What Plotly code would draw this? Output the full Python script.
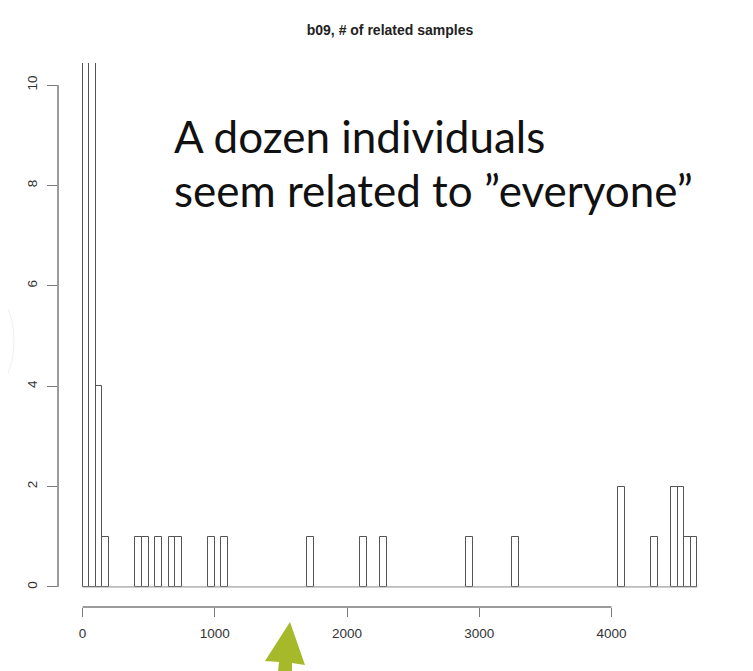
import plotly.graph_objects as go

# histogram of "# of related samples", bins of 50
bin_width = 50
bin_starts = [0, 50, 100, 150, 400, 450, 550, 650, 700, 950, 1050, 1700,
              2100, 2250, 2900, 3250, 4050, 4300, 4450, 4500, 4550, 4600]
# first two bins run far off the top of the plot
counts = [180, 95, 4, 1, 1, 1, 1, 1, 1, 1, 1, 1,
          1, 1, 1, 1, 2, 1, 2, 2, 1, 1]

x_ticks = [0, 1000, 2000, 3000, 4000]
y_ticks = [0, 2, 4, 6, 8, 10]

title = "b09, # of related samples"
note_lines = ["A dozen individuals", "seem related to ”everyone”"]

# the page body has an 8px margin, so the figure is a bit smaller than the window
OFF = 8
W, H = 753 - OFF, 671 - OFF
L, R, T, B = 58 - OFF, 31, 63 - OFF, 64
pw, ph = W - L - R, H - T - B


def px(xs, ys):
    # screen pixel -> paper coords
    xf, yf = xs - OFF, ys - OFF
    return (xf - L) / pw, (H - B - yf) / ph


centers = [s + bin_width / 2 for s in bin_starts]
line_col = "#555555"
axis_col = "#7a7a7a"

fig = go.Figure()

# baseline of zero-count bins
fig.add_trace(go.Scatter(
    x=[bin_starts[0], bin_starts[-1] + bin_width], y=[0, 0],
    mode="lines", line=dict(color="#8a8a8a", width=1),
    hoverinfo="skip", showlegend=False,
))

fig.add_trace(go.Bar(
    x=centers, y=counts, width=bin_width,
    marker=dict(color="rgba(255,255,255,0)", line=dict(color=line_col, width=1)),
    showlegend=False,
))

fig.update_layout(
    width=W, height=H,
    margin=dict(l=L, r=R, t=T, b=B),
    paper_bgcolor="white", plot_bgcolor="white",
    bargap=0,
    title=dict(text="<b>" + title + "</b>", x=0.5, xref="paper",
               y=1 - (30 - OFF) / H, yanchor="middle",
               font=dict(family="Liberation Sans, Arial", size=14, color="#222")),
    font=dict(family="Liberation Sans, Arial", size=13.5, color="#333"),
)

fig.update_xaxes(
    range=[-186, 4836], showgrid=False, zeroline=False, showline=False,
    tickvals=x_ticks, ticks="outside", ticklen=9, tickcolor=axis_col, tickwidth=1,
    ticklabelstandoff=5,
)
fig.update_yaxes(
    range=[-0.4, 10.44], showgrid=False, zeroline=False, showline=False,
    tickvals=y_ticks, ticks="outside", ticklen=10, tickcolor=axis_col, tickwidth=1,
    tickangle=-90, ticklabelstandoff=5,
)

# R style axis lines that stop at the outer ticks
fig.add_shape(type="line", xref="x", yref="paper", x0=x_ticks[0], x1=x_ticks[-1],
              y0=0, y1=0, line=dict(color=axis_col, width=1.5))
fig.add_shape(type="line", xref="paper", yref="y", x0=0, x1=0,
              y0=y_ticks[0], y1=y_ticks[-1], line=dict(color=axis_col, width=1.5))

# slide text
for i, t in enumerate(note_lines):
    xa, ya = px(172, 136 + 54 * i)
    fig.add_annotation(text=t, xref="paper", yref="paper", x=xa, y=ya,
                       xanchor="left", yanchor="middle", showarrow=False,
                       font=dict(family="Lato", size=44, color="#111"))

# green arrow pointing at the axis
arrow_px = [(290, 622), (305, 665), (292, 663), (292, 672), (278, 672),
            (279, 662), (265, 661)]
pts = [px(a, b) for a, b in arrow_px]
path = "M " + " L ".join(f"{a:.4f},{b:.4f}" for a, b in pts) + " Z"
fig.add_shape(type="path", xref="paper", yref="paper", path=path,
              fillcolor="#a6b92a", line=dict(color="#a6b92a", width=0))

# faint slide decoration at the left edge
cx0, cy0 = px(-40, 290)
cx1, cy1 = px(14, 392)
fig.add_shape(type="circle", xref="paper", yref="paper", x0=cx0, x1=cx1, y0=cy0, y1=cy1,
              line=dict(color="#efefef", width=1))

fig.write_html("out.html")
